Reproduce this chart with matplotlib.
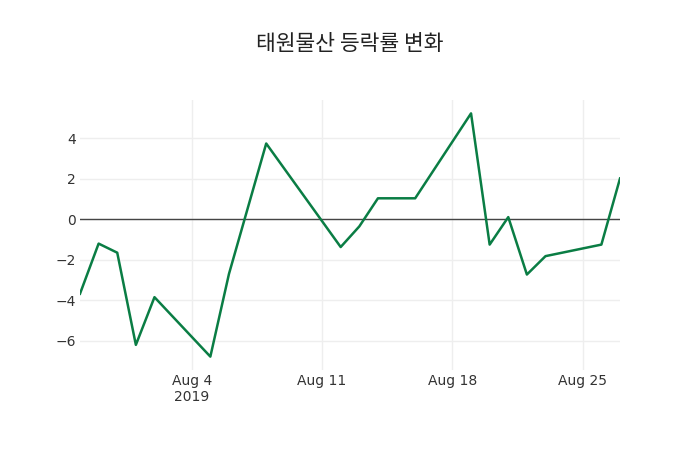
import numpy as np
import pandas as pd
import matplotlib
matplotlib.use('Agg')
import matplotlib.pyplot as plt
import matplotlib.dates as mdates

plt.rcParams['font.family'] = ['DejaVu Sans', 'Noto Sans CJK KR']

# 날짜와 등락률(%)
dates = ['2019-07-29', '2019-07-30', '2019-07-31', '2019-08-01', '2019-08-02',
         '2019-08-05', '2019-08-06', '2019-08-08', '2019-08-12', '2019-08-13',
         '2019-08-14', '2019-08-16', '2019-08-19', '2019-08-20', '2019-08-21',
         '2019-08-22', '2019-08-23', '2019-08-26', '2019-08-27']
rates = [-3.68, -1.2, -1.65, -6.21, -3.85,
         -6.79, -2.7, 3.75, -1.37, -0.35,
         1.04, 1.04, 5.24, -1.25, 0.11,
         -2.73, -1.82, -1.25, 2.02]
tick_dates = ['2019-08-04', '2019-08-11', '2019-08-18', '2019-08-25']
tick_labels = ['Aug 4\n2019', 'Aug 11', 'Aug 18', 'Aug 25']
title = '태원물산 등락률 변화'

x = pd.to_datetime(dates)

fig = plt.figure(figsize=(7, 4.5), dpi=100)
ax = fig.add_axes([80 / 700, 80 / 450, 540 / 700, 270 / 450])

ax.plot(x, rates, color='#0a7d44', linewidth=1.8, zorder=3)
ax.axhline(0, color='#444444', linewidth=1, zorder=2)

ax.set_xlim(x[0], x[-1])
pad = (max(rates) - min(rates)) * 0.055
ax.set_ylim(min(rates) - pad, max(rates) + pad)

ax.set_xticks(pd.to_datetime(tick_dates))
ax.set_xticklabels(tick_labels)
ax.set_yticks([-6, -4, -2, 0, 2, 4])
ax.set_yticklabels(['\u22126', '\u22124', '\u22122', '0', '2', '4'])

ax.grid(True, color='#eeeeee', linewidth=1, zorder=0)
for s in ax.spines.values():
    s.set_visible(False)
ax.tick_params(length=0, labelsize=10, colors='#333333')
ax.tick_params(axis='y', pad=3)
ax.tick_params(axis='x', pad=3)

fig.text(0.5, 1 - 44 / 450, title, ha='center', va='center', fontsize=15.5,
         color='#222222', family=['Noto Sans CJK KR', 'DejaVu Sans'])

fig.savefig('out.png', dpi=100)
